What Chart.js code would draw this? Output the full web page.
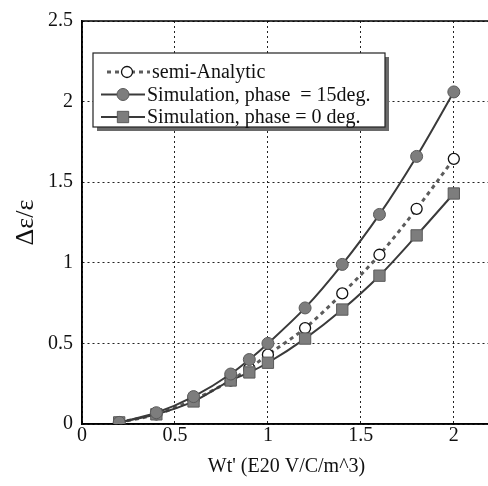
<!DOCTYPE html>
<html>
<head>
<meta charset="utf-8">
<script src="https://cdn.jsdelivr.net/npm/chart.js@4.4.0/dist/chart.umd.min.js"></script>
<style>
  html, body { margin: 0; padding: 0; background: #fff; overflow: hidden; }
  #wrap { position: relative; width: 500px; height: 486px; }
</style>
</head>
<body>
<div id="wrap"><canvas id="chart" width="500" height="486"></canvas></div>
<script>
// Wt' values (E20 V/C/m^3) and the relative emittance growth for each model
const fieldValues = [0.2, 0.4, 0.6, 0.8, 0.9, 1.0, 1.2, 1.4, 1.6, 1.8, 2.0];
const semiAnalytic = [0.01, 0.06, 0.15, 0.27, 0.345, 0.43, 0.595, 0.81, 1.05, 1.335, 1.645];
const simPhase15 = [0.01, 0.07, 0.17, 0.31, 0.40, 0.50, 0.72, 0.99, 1.30, 1.66, 2.06];
const simPhase0 = [0.01, 0.06, 0.14, 0.27, 0.32, 0.38, 0.53, 0.71, 0.92, 1.17, 1.43];

const seriesNames = ['semi-Analytic', 'Simulation, phase  = 15deg.', 'Simulation, phase = 0 deg.'];
const xTicks = [0, 0.5, 1, 1.5, 2];
const yTicks = [0, 0.5, 1, 1.5, 2, 2.5];

const SERIF = '"Liberation Serif", "Times New Roman", serif';
const INK = '#111';

const toPoints = (ys) => ys.map((y, i) => ({ x: fieldValues[i], y }));
const plainNumber = (v) => String(v);

// solid frame around the plot area (top/right included)
const plotFrame = {
  id: 'plotFrame',
  beforeDatasetsDraw(chart) {
    const { ctx, chartArea: a } = chart;
    ctx.save();
    ctx.strokeStyle = '#000';
    ctx.lineWidth = 1.5;
    ctx.strokeRect(a.left, a.top, a.right - a.left, a.bottom - a.top);
    ctx.restore();
  }
};

function drawMarker(ctx, ds, x, y) {
  ctx.save();
  ctx.fillStyle = ds.pointBackgroundColor;
  ctx.strokeStyle = ds.pointBorderColor;
  ctx.lineWidth = ds.pointBorderWidth;
  ctx.beginPath();
  if (ds.pointStyle === 'rect') {
    const s = ds.pointRadius * Math.SQRT1_2;
    ctx.rect(x - s, y - s, 2 * s, 2 * s);
  } else {
    ctx.arc(x, y, ds.pointRadius, 0, Math.PI * 2);
  }
  ctx.fill();
  ctx.stroke();
  ctx.restore();
}

// boxed legend with a drop shadow, inside the plot
const boxedLegend = {
  id: 'boxedLegend',
  afterDraw(chart) {
    const ctx = chart.ctx;
    const box = { x: 93, y: 53, w: 292, h: 74 };
    ctx.save();
    ctx.fillStyle = '#6a6a6a';
    ctx.fillRect(box.x + 4, box.y + 4, box.w, box.h);
    ctx.fillStyle = '#fff';
    ctx.fillRect(box.x, box.y, box.w, box.h);
    ctx.strokeStyle = '#222';
    ctx.lineWidth = 1.2;
    ctx.strokeRect(box.x, box.y, box.w, box.h);

    const rows = [72, 94.5, 117];
    chart.data.datasets.forEach((ds, i) => {
      const y = rows[i];
      const dashed = ds.borderDash && ds.borderDash.length;
      const x0 = dashed ? 107 : 101;
      const x1 = dashed ? 150 : 145;
      const mx = dashed ? 127 : 123;
      ctx.save();
      ctx.strokeStyle = ds.borderColor;
      ctx.lineWidth = ds.borderWidth;
      ctx.setLineDash(dashed ? ds.borderDash : []);
      ctx.beginPath();
      ctx.moveTo(x0, y);
      ctx.lineTo(x1, y);
      ctx.stroke();
      ctx.restore();
      drawMarker(ctx, ds, mx, y);
      ctx.fillStyle = INK;
      ctx.font = '20px ' + SERIF;
      ctx.textBaseline = 'middle';
      ctx.textAlign = 'left';
      ctx.fillText(ds.label, x1 + 2, y + 1);
    });
    ctx.restore();
  }
};

new Chart(document.getElementById('chart'), {
  type: 'line',
  data: {
    datasets: [
      {
        label: seriesNames[0],
        data: toPoints(semiAnalytic),
        borderColor: '#5c5c5c',
        borderWidth: 3,
        borderDash: [4, 4],
        pointStyle: 'circle',
        pointRadius: 5.5,
        pointBackgroundColor: '#fff',
        pointBorderColor: '#111',
        pointBorderWidth: 1.3,
        cubicInterpolationMode: 'monotone',
        order: 3
      },
      {
        label: seriesNames[1],
        data: toPoints(simPhase15),
        borderColor: '#3a3a3a',
        borderWidth: 2,
        pointStyle: 'circle',
        pointRadius: 6,
        pointBackgroundColor: '#7d7d7d',
        pointBorderColor: '#5a5a5a',
        pointBorderWidth: 1,
        cubicInterpolationMode: 'monotone',
        order: 1
      },
      {
        label: seriesNames[2],
        data: toPoints(simPhase0),
        borderColor: '#3a3a3a',
        borderWidth: 2,
        pointStyle: 'rect',
        pointRadius: 8,
        pointBackgroundColor: '#7d7d7d',
        pointBorderColor: '#5a5a5a',
        pointBorderWidth: 1,
        cubicInterpolationMode: 'monotone',
        order: 2
      }
    ]
  },
  options: {
    responsive: false,
    animation: false,
    devicePixelRatio: 1,
    layout: { padding: { top: 18, right: 8, left: 0, bottom: 0 } },
    plugins: {
      legend: { display: false },
      tooltip: { enabled: false }
    },
    scales: {
      x: {
        type: 'linear',
        min: 0,
        max: 2.2,
        afterBuildTicks: (scale) => { scale.ticks = xTicks.map(v => ({ value: v })); },
        afterFit: (scale) => { scale.height = 62; },
        grid: { color: '#222', lineWidth: 1, drawTicks: false },
        border: { color: '#000', width: 1.5, dash: [2, 3] },
        ticks: { color: INK, padding: 0, maxRotation: 0, callback: plainNumber, font: { family: SERIF, size: 20 } },
        title: {
          display: true,
          text: "Wt' (E20 V/C/m^3)",
          color: INK,
          font: { family: SERIF, size: 20 },
          padding: { top: 0, bottom: 7 }
        }
      },
      y: {
        min: 0,
        max: 2.5,
        afterBuildTicks: (scale) => { scale.ticks = yTicks.map(v => ({ value: v })); },
        afterFit: (scale) => { scale.width = 82; },
        grid: { color: '#222', lineWidth: 1, drawTicks: false },
        border: { color: '#000', width: 1.5, dash: [2, 3] },
        ticks: { color: INK, padding: 9, callback: plainNumber, font: { family: SERIF, size: 20 } },
        title: {
          display: true,
          text: 'Δε/ε',
          color: INK,
          font: { family: SERIF, size: 26 },
          padding: { top: 11, bottom: 0 }
        }
      }
    }
  },
  plugins: [plotFrame, boxedLegend]
});
</script>
</body>
</html>
